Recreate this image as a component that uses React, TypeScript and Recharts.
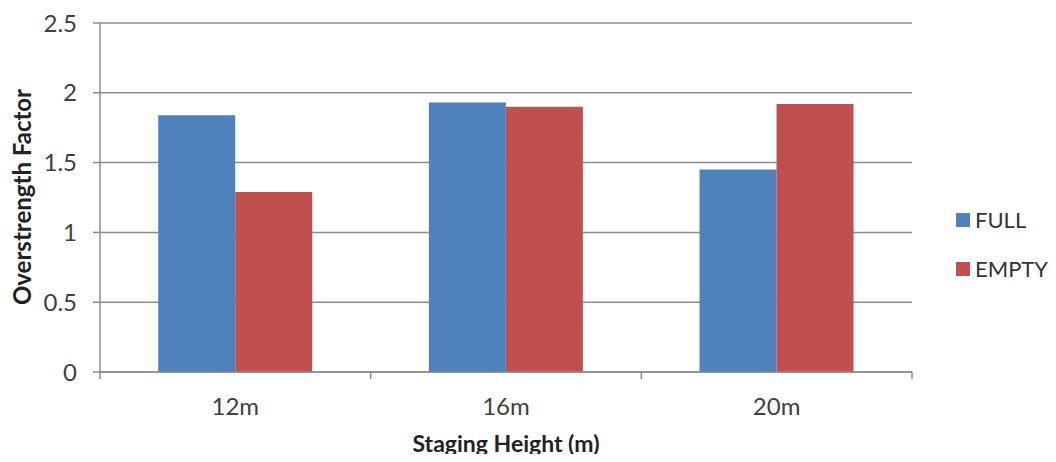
import React from 'react'
import { BarChart, Bar, XAxis, YAxis, CartesianGrid } from 'recharts'

const categories = ['12m', '16m', '20m']
const fullValues = [1.84, 1.93, 1.45]
const emptyValues = [1.29, 1.9, 1.92]
const yTicks = [0, 0.5, 1, 1.5, 2, 2.5]

const data = categories.map((c, i) => ({
    name: c,
    FULL: fullValues[i],
    EMPTY: emptyValues[i],
}))

const FONT = 'Lato, "Open Sans", sans-serif'
const GRID = '#8c8c8c'
const W = 1056
const H = 462
const MARGIN = { top: 23, right: 144, left: 0, bottom: 0 }
const Y_W = 100
const X_H = 90
const PLOT_W = W - MARGIN.right - Y_W

const SERIES = [
    { key: 'FULL', color: '#4F81BD' },
    { key: 'EMPTY', color: '#C0504D' },
]

// category label in the middle, Excel style tick marks on the band edges
function XTick(props: any) {
    const { x, payload, index } = props
    const axisY = H - X_H
    const band = PLOT_W / categories.length
    const left = x - band / 2
    return (
        <g>
            <line x1={left} x2={left} y1={axisY} y2={axisY + 7} stroke={GRID} strokeWidth={1.5} />
            {index === categories.length - 1 && (
                <line x1={left + band} x2={left + band} y1={axisY} y2={axisY + 7} stroke={GRID} strokeWidth={1.5} />
            )}
            <text x={x} y={axisY + 43} textAnchor="middle" fontSize={24} fill="#404040" fontFamily={FONT}>
                {payload.value}
            </text>
        </g>
    )
}

function LegendBox() {
    return (
        <div style={{ position: 'absolute', left: 956, top: 207, fontFamily: FONT, fontSize: 22, color: '#333', whiteSpace: 'nowrap' }}>
            {SERIES.map(s => (
                <div key={s.key} style={{ display: 'flex', alignItems: 'center', height: 25, marginBottom: 24 }}>
                    <span style={{ width: 14, height: 14, background: s.color, display: 'inline-block', marginRight: 5 }} />
                    <span>{s.key}</span>
                </div>
            ))}
        </div>
    )
}

export default function App() {
    return (
        <div style={{ margin: -8, width: W, height: H, background: '#fff', position: 'relative', overflow: 'hidden' }}>
            <BarChart width={W} height={H} data={data} margin={MARGIN} barCategoryGap="21.5%" barGap={0}>
                <CartesianGrid vertical={false} stroke={GRID} strokeWidth={1.5} />
                <XAxis
                    dataKey="name"
                    height={X_H}
                    axisLine={{ stroke: GRID, strokeWidth: 1.5 }}
                    tickLine={false}
                    tick={<XTick />}
                    interval={0}
                    label={{
                        content: ({ viewBox }: any) => (
                            <text
                                x={viewBox.x + viewBox.width / 2}
                                y={viewBox.y + 80}
                                textAnchor="middle"
                                fontSize={23}
                                fontWeight="bold"
                                fill="#222"
                                fontFamily={FONT}
                            >
                                Staging Height (m)
                            </text>
                        ),
                    }}
                />
                <YAxis
                    width={Y_W}
                    domain={[0, 2.5]}
                    ticks={yTicks}
                    interval={0}
                    axisLine={{ stroke: GRID, strokeWidth: 1.5 }}
                    tickLine={{ stroke: GRID, strokeWidth: 1.5 }}
                    tickSize={7}
                    tickMargin={16}
                    tick={{ fontSize: 24, fill: '#404040', fontFamily: FONT }}
                    label={{
                        content: () => (
                            <text
                                x={21}
                                y={197}
                                transform="rotate(-90 21 197)"
                                textAnchor="middle"
                                dominantBaseline="central"
                                fontSize={24}
                                fontWeight="bold"
                                fill="#222"
                                fontFamily={FONT}
                            >
                                Overstrength Factor
                            </text>
                        ),
                    }}
                />
                {SERIES.map(s => (
                    <Bar key={s.key} dataKey={s.key} fill={s.color} isAnimationActive={false} />
                ))}
            </BarChart>
            <LegendBox />
        </div>
    )
}
